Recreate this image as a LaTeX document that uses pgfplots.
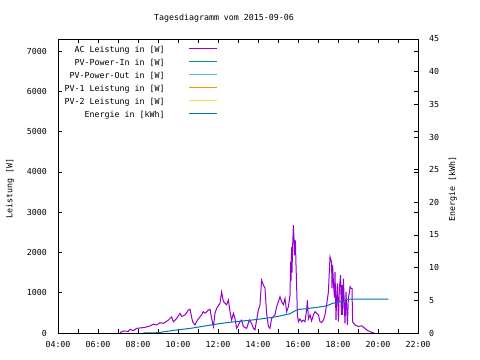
\documentclass[border=0pt]{standalone}
\usepackage{pgfplots}
\pgfplotsset{compat=1.18}
\usepackage{fontspec}
\setmainfont{DejaVu Sans Mono}
\definecolor{acviolet}{HTML}{9400D3}
\definecolor{pvin}{HTML}{009E73}
\definecolor{pvout}{HTML}{56B4E9}
\definecolor{pvone}{HTML}{E69F00}
\definecolor{pvtwo}{HTML}{F0E442}
\definecolor{energy}{HTML}{0072B2}
\begin{document}
\begin{tikzpicture}
\fontsize{8.3bp}{10bp}\selectfont
\useasboundingbox (0,0) rectangle (480bp,360bp);
\node[font=\fontsize{8.3bp}{10bp}\selectfont] at (224bp,341.5bp) {Tagesdiagramm vom 2015-09-06};
\pgfplotsset{
  common/.style={
    scale only axis, width=360bp, height=294bp,
    at={(58bp,27bp)}, anchor=south west,
    xmin=4, xmax=22,
    tick align=inside,
    major tick length=4bp, minor tick length=4bp,
    axis line style={line width=0.8bp},
    every tick/.style={black, line width=0.8bp},
    /pgf/number format/assume math mode=true,
    /pgf/number format/1000 sep={},
    tick label style={font=\fontsize{8.3bp}{10bp}\selectfont},
    label style={font=\fontsize{8.3bp}{10bp}\selectfont},
  }
}
\begin{axis}[common,
  ymin=0, ymax=7300,
  ytick={0,1000,...,7000},
  yticklabel style={anchor=east, inner sep=0pt, xshift=-11bp},
  scaled y ticks=false,
  xtick={4,6,...,22},
  xticklabels={04:00,06:00,08:00,10:00,12:00,14:00,16:00,18:00,20:00,22:00},
  minor xtick={5,7,...,21},
  xticklabel style={anchor=center, inner sep=0pt, yshift=-11bp},
  ylabel={Leistung [W]},
  every axis y label/.style={at={(axis description cs:-0.133,0.49)}, rotate=90, anchor=center},
  legend style={draw=none, fill=none, at={(0.444,0.976)}, anchor=north east,
    inner sep=0pt, outer sep=0pt, row sep=5.5bp, column sep=24bp,
    nodes={inner sep=0pt, text height=6bp, text depth=1.5bp},
    font=\fontsize{8.3bp}{10bp}\selectfont},
  legend cell align=right,
  legend plot pos=right,
  legend image code/.code={\draw[#1,line width=1.3bp] (0bp,1.5bp) -- (28bp,1.5bp);},
]
\addplot[acviolet, line width=1bp] coordinates {
(7.1,10) (7.27,50) (7.52,40) (7.6,90) (7.77,60) (7.93,115) (8.18,130) (8.35,140) (8.6,175) (8.77,220) (8.93,200) (9.1,255) (9.27,240) (9.52,320) (9.68,400) (9.77,280) (9.93,360) (10.1,490) (10.18,410) (10.35,450) (10.52,570) (10.6,590) (10.73,280) (10.85,200) (10.97,320) (11.18,450) (11.27,530) (11.35,490) (11.52,570) (11.6,590) (11.68,360) (11.77,160) (11.85,490) (11.93,610) (12.1,740) (12.18,1020) (12.27,780) (12.35,740) (12.43,700) (12.52,820) (12.6,530) (12.68,320) (12.77,490) (12.85,360) (12.93,115) (13.02,200) (13.1,280) (13.18,320) (13.27,160) (13.43,115) (13.57,320) (13.68,240) (13.77,115) (13.85,80) (13.93,320) (14.02,570) (14.1,700) (14.18,1310) (14.27,1190) (14.35,1110) (14.43,490) (14.52,160) (14.6,115) (14.68,360) (14.85,450) (14.93,650) (15.02,780) (15.1,900) (15.18,780) (15.27,700) (15.35,860) (15.43,530) (15.52,650) (15.6,940) (15.63,1770) (15.65,1300) (15.68,2140) (15.7,1500) (15.73,2140) (15.77,2680) (15.8,2350) (15.83,1930) (15.87,2300) (15.9,1690) (15.93,1190) (15.97,450) (16.02,280) (16.1,350) (16.18,280) (16.27,320) (16.35,280) (16.43,570) (16.47,820) (16.52,350) (16.6,450) (16.68,300) (16.77,450) (16.85,530) (16.93,490) (17.02,450) (17.1,280) (17.18,260) (17.27,320) (17.35,450) (17.43,700) (17.52,1020) (17.6,1890) (17.65,1810) (17.68,1730) (17.7,1110) (17.73,1690) (17.77,1270) (17.82,880) (17.85,1520) (17.9,320) (17.93,880) (17.97,1230) (18.02,280) (18.07,1110) (18.13,1440) (18.17,450) (18.2,1190) (18.23,450) (18.27,1350) (18.35,240) (18.4,1020) (18.47,200) (18.52,880) (18.57,1000) (18.6,1150) (18.65,1110) (18.7,1110) (18.73,280) (18.85,200) (19.02,160) (19.18,180) (19.35,115) (19.43,75) (19.57,40) (19.68,20) (19.8,0)
};
\addlegendentry{AC Leistung in [W]}
\addlegendimage{color={rgb,255:red,0;green,158;blue,115}}
\addlegendentry{PV-Power-In in [W]}
\addlegendimage{color={rgb,255:red,86;green,180;blue,233}}
\addlegendentry{PV-Power-Out in [W]}
\addlegendimage{color={rgb,255:red,230;green,159;blue,0}}
\addlegendentry{PV-1 Leistung in [W]}
\addlegendimage{color={rgb,255:red,240;green,228;blue,66}}
\addlegendentry{PV-2 Leistung in [W]}
\addlegendimage{color={rgb,255:red,0;green,114;blue,178}}
\addlegendentry{Energie in [kWh]}
\end{axis}
\begin{axis}[common,
  ymin=0, ymax=45,
  ytick={0,5,...,45},
  ytick pos=right, yticklabel pos=right,
  yticklabel style={anchor=west, inner sep=0pt, xshift=11bp},
  hide x axis,
  ylabel={Energie [kWh]},
  every axis y label/.style={at={(axis description cs:1.097,0.49)}, rotate=90, anchor=center},
]
\addplot[energy, line width=1bp] coordinates {
(8.27,0) (9.1,0.05) (9.2,0.15) (9.9,0.45) (10.6,0.7) (11.1,0.95) (11.5,1.15) (12.1,1.45) (12.77,1.7) (13.6,1.95) (14.27,2.2) (14.93,2.5) (15.6,2.95) (15.85,3.4) (16.02,3.6) (16.5,3.75) (17.0,3.95) (17.43,4.15) (17.7,4.5) (17.93,4.7) (18.3,4.95) (18.6,5.2) (20.52,5.2)
};
\end{axis}
\end{tikzpicture}
\end{document}
